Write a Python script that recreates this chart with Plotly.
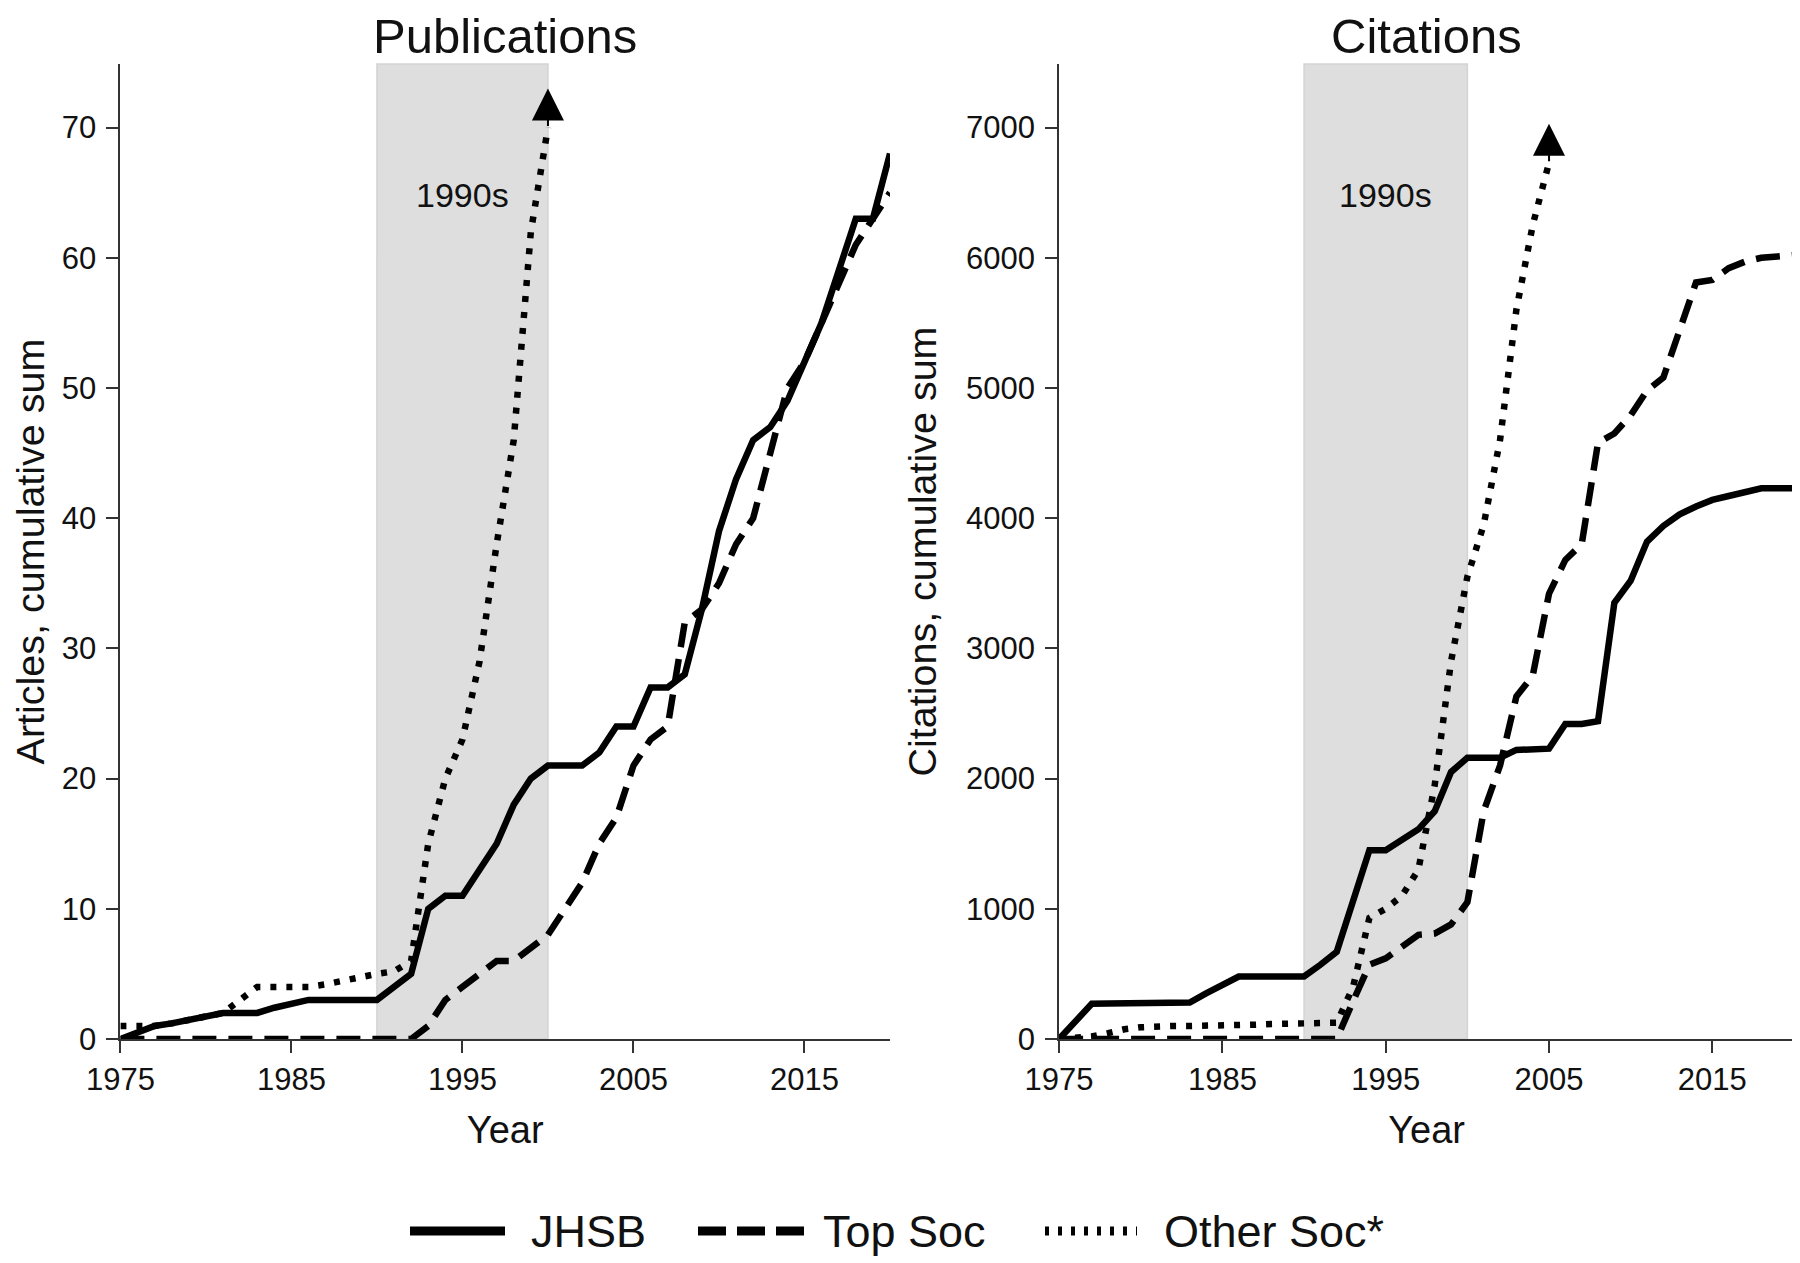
import plotly.graph_objects as go

# ---------------- data ----------------
years = list(range(1975, 2021))

pubs_jhsb = [0, 0.5, 1, 1.2, 1.5, 1.8, 2, 2, 2, 2.4, 2.7, 3, 3, 3, 3, 3,
             4, 5, 10, 11, 11, 13, 15, 18, 20, 21,
             21, 21, 22, 24, 24, 27, 27, 28, 33, 39,
             43, 46, 47, 49, 52, 55, 59, 63, 63, 68]
pubs_top = [0] * 18 + [1, 3, 4, 5, 6, 6, 7, 8,
                       10, 12, 15, 17, 21, 23, 24, 32, 33, 35,
                       38, 40, 45, 50, 52, 55, 58, 61, 63, 65]
pubs_other = [1, 1, 1, 1.2, 1.5, 1.8, 2, 3, 4, 4, 4, 4, 4.2, 4.5, 4.8, 5,
              5.2, 6, 15, 20, 23, 29, 38, 46, 62, 70] + [None] * 20

cites_jhsb = [0, 135, 270, 272, 274, 276, 278, 280, 280, 350, 420, 480, 480, 480, 480, 480,
              570, 670, 1060, 1450, 1450, 1530, 1610, 1750, 2050, 2160,
              2160, 2160, 2220, 2225, 2230, 2420, 2420, 2440, 3350, 3520,
              3820, 3940, 4030, 4090, 4140, 4170, 4200, 4230, 4230, 4230]
cites_top = [0] * 18 + [290, 570, 620, 710, 800, 810, 880, 1050,
                        1750, 2100, 2630, 2790, 3420, 3680, 3800, 4580, 4650, 4790,
                        4980, 5080, 5450, 5810, 5830, 5920, 5970, 6000, 6010, 6020]
cites_other = [0, 10, 20, 45, 75, 90, 100, 100, 100, 100, 105, 105, 110, 115, 120, 120,
               125, 125, 400, 930, 1000, 1100, 1300, 1950, 2900, 3550,
               3950, 4600, 5600, 6250, 6730] + [None] * 15

series_names = ["JHSB", "Top Soc", "Other Soc*"]
panel_titles = ["Publications", "Citations"]
y_titles = ["Articles, cumulative sum", "Citations, cumulative sum"]
x_title = "Year"
x_ticks = [1975, 1985, 1995, 2005, 2015]
y_ticks_pubs = [0, 10, 20, 30, 40, 50, 60, 70]
y_ticks_cites = [0, 1000, 2000, 3000, 4000, 5000, 6000, 7000]
decade = [1990, 2000]
decade_label = "1990s"

# ---------------- page geometry ----------------
# The html page has an 8px body margin, so the figure is made 8px smaller
# and page-pixel positions are converted into paper fractions.
PAGE_OFF = 8
W, H = 1800 - PAGE_OFF, 1263 - PAGE_OFF


def fx(px):
    return (px - PAGE_OFF) / W


def fy(py):
    return 1 - (py - PAGE_OFF) / H


FONT = "Liberation Sans, Arial, sans-serif"
INK = "#111111"
AX = "#333333"
LW = 6.5
DASHES = ["solid", "24px,12px", "6px,10px"]

fig = go.Figure()

panels = [
    ("x", "y", [pubs_jhsb, pubs_top, pubs_other]),
    ("x2", "y2", [cites_jhsb, cites_top, cites_other]),
]
for xa, ya, series in panels:
    for name, vals, dash in zip(series_names, series, DASHES):
        fig.add_trace(go.Scatter(
            x=years, y=vals, mode="lines", name=name, showlegend=False,
            xaxis=xa, yaxis=ya, connectgaps=False,
            line=dict(color="black", width=LW, dash=dash),
        ))

x_dom_l = [fx(120.4), fx(890)]
x_dom_r = [fx(1059.1), fx(1794)]
y_dom = [fy(1039), fy(64)]
y_rng_pubs = [0, 74.88]
y_rng_cites = [0, 7488]

common_x = dict(range=[1975, 2020], tickvals=x_ticks, ticks="outside", ticklen=12,
                tickwidth=2, tickcolor=AX, showline=True, linecolor=AX, linewidth=2,
                showgrid=False, zeroline=False, automargin=False,
                tickfont=dict(size=31, color=INK, family=FONT),
                title=dict(text=x_title, font=dict(size=38, color=INK, family=FONT), standoff=20))
common_y = dict(ticks="outside", ticklen=12, tickwidth=2, tickcolor=AX, showline=True,
                linecolor=AX, linewidth=2, showgrid=False, zeroline=False, automargin=False,
                tickfont=dict(size=31, color=INK, family=FONT), ticklabelstandoff=4)

fig.update_layout(
    width=W, height=H,
    margin=dict(l=0, r=0, t=0, b=0, autoexpand=False),
    paper_bgcolor="white", plot_bgcolor="white",
    font=dict(family=FONT, color=INK),
    xaxis=dict(domain=x_dom_l, anchor="y", **common_x),
    xaxis2=dict(domain=x_dom_r, anchor="y2", **common_x),
    yaxis=dict(domain=y_dom, anchor="x", range=y_rng_pubs, tickvals=y_ticks_pubs,
               title=dict(text=y_titles[0], font=dict(size=39.5, color=INK, family=FONT), standoff=16),
               **common_y),
    yaxis2=dict(domain=y_dom, anchor="x2", range=y_rng_cites, tickvals=y_ticks_cites,
                title=dict(text=y_titles[1], font=dict(size=39.5, color=INK, family=FONT), standoff=17),
                **common_y),
)

shapes = []
annotations = []
for xr, yr, last_vals, top in [("x", "y", pubs_other, y_rng_pubs[1]),
                               ("x2", "y2", cites_other, y_rng_cites[1])]:
    # shaded decade band
    shapes.append(dict(type="rect", xref=xr, yref=yr + " domain", x0=decade[0], x1=decade[1],
                       y0=0, y1=1, fillcolor="#dedede", line=dict(color="#d3d3d3", width=1.5),
                       layer="below"))
    annotations.append(dict(xref=xr, yref=yr, x=sum(decade) / 2, y=0.866 * top,
                            xanchor="center", yanchor="middle",
                            text=decade_label, showarrow=False,
                            font=dict(size=34, color=INK, family=FONT)))
    # arrow head at the truncated end of "Other Soc*"
    idx = max(i for i, v in enumerate(last_vals) if v is not None)
    annotations.append(dict(xref=xr, yref=yr, axref=xr, ayref=yr,
                            x=years[idx], y=last_vals[idx] + 0.04 * top,
                            ax=years[idx], ay=last_vals[idx],
                            text="", showarrow=True, arrowhead=2, arrowsize=3.2,
                            arrowwidth=2, arrowcolor="black"))

# panel titles
for dom, title in zip([x_dom_l, x_dom_r], panel_titles):
    annotations.append(dict(xref="paper", yref="paper", x=sum(dom) / 2, y=1,
                            xanchor="center", yanchor="top", borderpad=0,
                            text=title, showarrow=False,
                            font=dict(size=49, color=INK, family=FONT)))

# legend (drawn below the panels)
leg_y = fy(1231)
leg_keys = [(fx(410), fx(505), "solid"), (fx(698), fx(804), "28px,11px"),
            (fx(1045), fx(1137), "4px,9px")]
leg_text_x = [fx(530), fx(822), fx(1163)]
for (x0, x1, dash), tx, name in zip(leg_keys, leg_text_x, series_names):
    shapes.append(dict(type="line", xref="paper", yref="paper", x0=x0, x1=x1, y0=leg_y, y1=leg_y,
                       line=dict(color="black", width=9, dash=dash)))
    annotations.append(dict(xref="paper", yref="paper", x=tx, y=leg_y, xanchor="left",
                            yanchor="middle", borderpad=0, text=name, showarrow=False,
                            font=dict(size=45, color=INK, family=FONT)))

fig.update_layout(shapes=shapes, annotations=annotations)
fig.write_html("out.html")
